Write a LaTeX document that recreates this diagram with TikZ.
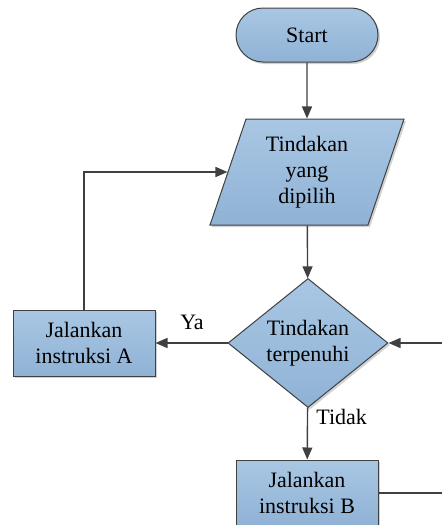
\documentclass[tikz,border=0pt]{standalone}
\usepackage{fontspec}
\setmainfont{Liberation Serif}
\usepackage{tikz}
\usetikzlibrary{shapes.geometric,shapes.misc,shadows,arrows.meta}
\definecolor{boxtop}{HTML}{A9C7E4}
\definecolor{boxbot}{HTML}{8FB2D5}
\definecolor{linegray}{HTML}{404040}

\begin{document}
\begin{tikzpicture}[
      x=0.5pt, y=-0.5pt,
      every node/.style={font=\fontsize{11}{13}\selectfont, align=center, inner sep=0pt},
      blok/.style={draw=linegray, line width=0.5pt, top color=boxtop, bottom color=boxbot,
        drop shadow={shadow xshift=1pt, shadow yshift=-1pt, fill=black!30, opacity=0.6}},
      terminal/.style={blok, rounded rectangle, minimum width=71pt, minimum height=27pt},
      proses/.style={blok, rectangle, minimum width=71pt, minimum height=33pt},
      masukan/.style={blok, trapezium, trapezium left angle=63.4, trapezium right angle=116.6,
        trapezium stretches body, minimum width=97pt, minimum height=53pt},
      keputusan/.style={blok, diamond, minimum width=80pt, minimum height=59.5pt},
      pointer/.style={draw=linegray, line width=0.7pt, -{Triangle[length=6pt,width=5pt]}},
      garis/.style={draw=linegray, line width=0.7pt},
      keterangan/.style={font=\fontsize{11}{13}\selectfont}
      ]
      \useasboundingbox (0,0) rectangle (442,525);
      \clip (0,0) rectangle (442,525);
      \node[terminal] (start) at (307,35) {Start};
      \node[masukan] (tindakan) at (307,172) {Tindakan\\yang\\dipilih};
      \node[keputusan] (syarat) at (308,343) {Tindakan\\terpenuhi};
      \node[proses] (instA) at (84,343) {Jalankan\\instruksi A};
      \node[proses] (instB) at (307,493) {Jalankan\\instruksi B};
      \node[keterangan] (ya) at (192,322) {Ya};
      \node[keterangan, anchor=west] (tidak) at (316,417) {Tidak};
      \coordinate (masuk) at (syarat.east -| 450,0);
      \coordinate (keluar) at (instB.east -| 450,0);

      \path (start) edge[pointer] (tindakan);
      \path (tindakan) edge[pointer] (syarat);
      \path (syarat) edge[pointer] (instA);
      \path (syarat) edge[pointer] (instB);
      \draw[pointer] (instA.north) |- (tindakan.west);
      \draw[pointer] (masuk) -- (syarat.east);
      \draw[garis] (instB.east) -- (keluar);
    \end{tikzpicture}
\end{document}
